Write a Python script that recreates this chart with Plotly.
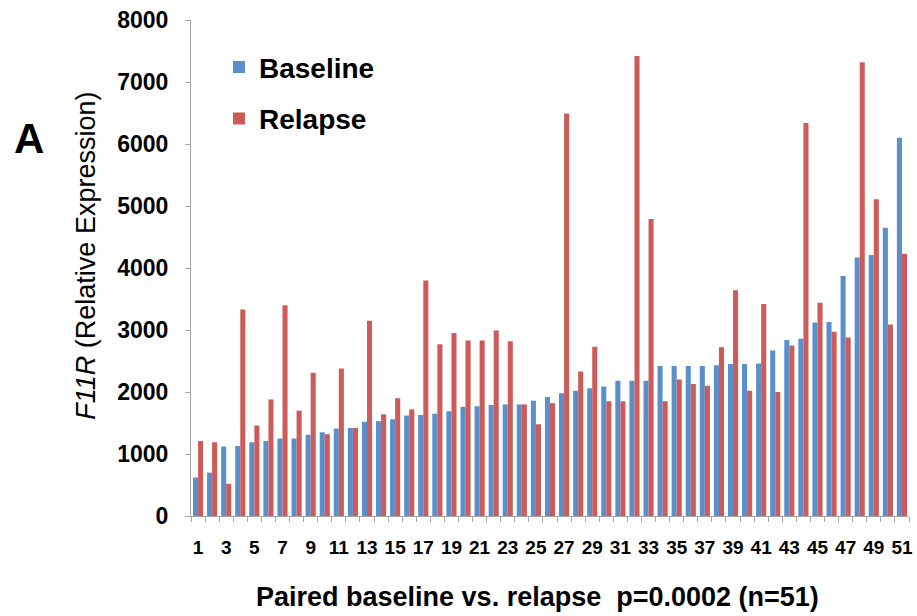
import plotly.graph_objects as go

patients = list(range(1, 52))
baseline = [620, 700, 1120, 1130, 1190, 1210, 1250, 1250, 1310, 1350,
            1410, 1420, 1520, 1530, 1560, 1620, 1630, 1650, 1690, 1760,
            1770, 1790, 1800, 1800, 1860, 1920, 1980, 2020, 2060, 2090,
            2180, 2180, 2180, 2420, 2420, 2420, 2420, 2430, 2450, 2450,
            2460, 2670, 2840, 2860, 3120, 3130, 3870, 4170, 4210, 4650,
            6100]
relapse = [1210, 1190, 520, 3330, 1460, 1880, 3400, 1700, 2310, 1320,
           2380, 1420, 3150, 1640, 1900, 1720, 3800, 2770, 2950, 2830,
           2830, 2990, 2820, 1800, 1480, 1820, 6490, 2330, 2730, 1850,
           1850, 7420, 4790, 1850, 2200, 2130, 2100, 2720, 3640, 2020,
           3420, 2000, 2750, 6340, 3440, 2970, 2880, 7320, 5110, 3090,
           4230]
tick_labels = [str(i) for i in range(1, 52, 2)]

BLUE = "#5B8FCC"
RED = "#CD5B5A"
AXIS = "#A6A6A6"

fig = go.Figure()
fig.add_trace(go.Bar(x=patients, y=baseline, name="Baseline", marker_color=BLUE,
                     marker_line_width=0, legendgroup="a"))
fig.add_trace(go.Bar(x=patients, y=relapse, name="Relapse", marker_color=RED,
                     marker_line_width=0, legendgroup="b"))

fig.update_layout(
    width=917, height=616,
    margin=dict(l=191, r=4, t=20, b=100),
    paper_bgcolor="white", plot_bgcolor="white",
    barmode="group", bargap=0.28, bargroupgap=0,
    font=dict(family="Liberation Sans, Arial, sans-serif", color="black"),
    legend=dict(x=0.039, y=0.955, xanchor="left", yanchor="top",
                bgcolor="rgba(0,0,0,0)", tracegroupgap=12,
                font=dict(size=28, family="Liberation Sans, Arial", weight="bold")),
    showlegend=True,
)

fig.update_xaxes(
    range=[0.5, 51.5],
    tickmode="array", tickvals=list(range(1, 52, 2)), ticktext=tick_labels,
    ticks="outside", ticklen=14, tickcolor="rgba(0,0,0,0)",
    ticklabeloverflow="allow",
    tickfont=dict(size=19, family="Liberation Sans Narrow, Arial Narrow, Liberation Sans",
                  weight="bold"),
    minor=dict(tickvals=[0.5 + i for i in range(52)], ticks="outside", ticklen=5,
               tickcolor=AXIS, showgrid=False),
    showline=True, linecolor=AXIS, linewidth=1,
    showgrid=False, zeroline=False,
)
fig.update_yaxes(
    range=[0, 8000], tickmode="linear", tick0=0, dtick=1000,
    ticks="outside", ticklen=5, tickcolor=AXIS, ticklabelstandoff=12,
    tickfont=dict(size=23, weight="bold"),
    showline=True, linecolor=AXIS, linewidth=1,
    showgrid=False, zeroline=False,
)

fig.add_annotation(text="A", x=-0.2258, y=0.762, xref="paper", yref="paper",
                   xanchor="center", yanchor="middle",
                   showarrow=False, font=dict(size=42, weight="bold"))
fig.add_annotation(text="<i>F11R</i> (Relative Expression)", x=-0.1468, y=0.524,
                   xref="paper", yref="paper", xanchor="center", yanchor="middle",
                   textangle=-90, showarrow=False, font=dict(size=27))
fig.add_annotation(text="Paired baseline vs. relapse  p=0.0002 (n=51)",
                   x=0.483, y=-0.163, xref="paper", yref="paper",
                   xanchor="center", yanchor="middle", showarrow=False,
                   font=dict(size=27, weight="bold"))

fig.write_html("out.html")
